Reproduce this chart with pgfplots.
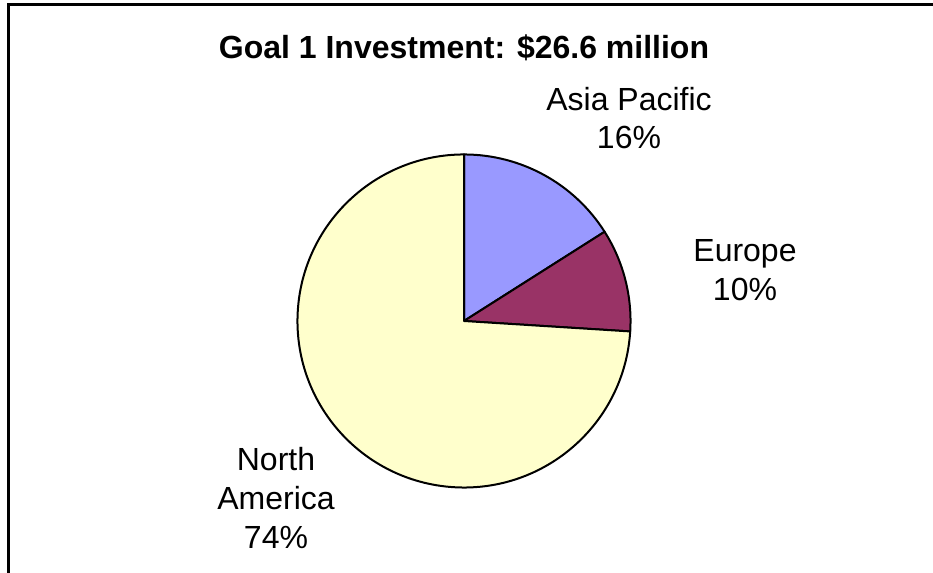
\documentclass[border=0pt]{standalone}
\usepackage{pgfplots}
\usepackage{pgfplotstable}
\pgfplotsset{compat=1.18}
\usepackage{fontspec}
\setmainfont{Liberation Sans}

\definecolor{asiapac}{HTML}{9999FF}
\definecolor{europe}{HTML}{993366}
\definecolor{namerica}{HTML}{FFFFCC}

% Share of the Goal 1 investment by region (percent), clockwise from 12 o'clock
\pgfplotstableread{
region share colour
AsiaPacific 16 asiapac
Europe 10 europe
NorthAmerica 74 namerica
}\goaldata

\begin{document}
\begin{tikzpicture}
\begin{axis}[
  hide axis, scale only axis,
  width=699.75pt, height=429.75pt,
  xmin=0, xmax=933, ymin=0, ymax=573,
  clip=false,
]
  \coordinate (SW) at (axis cs:0,0);
  \coordinate (NE) at (axis cs:933,573);
  \coordinate (C)  at (axis cs:464,252);
  % chart frame
  \draw[line width=2.25pt] (axis cs:8,-20) -- (axis cs:8,568) -- (axis cs:960,568);
  % title and slice labels
  \node[font=\fontsize{24}{29}\selectfont\bfseries, inner sep=0pt]
    at (axis cs:464,525) {Goal 1 Investment: \$26.6 million};
  \node[font=\fontsize{24}{29}\selectfont, align=center, inner sep=0pt]
    at (axis cs:629,455) {Asia Pacific\\16\%};
  \node[font=\fontsize{24}{29}\selectfont, align=center, inner sep=0pt]
    at (axis cs:745,303) {Europe\\10\%};
  \node[font=\fontsize{24}{29}\selectfont, align=center, inner sep=0pt]
    at (axis cs:276,75) {North\\America\\74\%};
\end{axis}

% pie slices from the table
\def\R{124.9pt}
\def\startangle{90}
\pgfplotstablegetrowsof{\goaldata}
\pgfmathtruncatemacro\lastrow{\pgfplotsretval-1}
\pgfplotsforeachungrouped \i in {0,...,\lastrow}{%
  \pgfplotstablegetelem{\i}{share}\of\goaldata
  \let\share\pgfplotsretval
  \pgfplotstablegetelem{\i}{colour}\of\goaldata
  \let\slicecol\pgfplotsretval
  \pgfmathsetmacro\endangle{\startangle-3.6*\share}
  \fill[fill=\slicecol, draw=black, line width=1.5pt, line join=round]
    (C) -- ++(\startangle:\R) arc[start angle=\startangle, end angle=\endangle, radius=\R] -- cycle;
  \let\startangle\endangle
}

\pgfresetboundingbox
\useasboundingbox (SW) rectangle (NE);
\end{tikzpicture}
\end{document}
